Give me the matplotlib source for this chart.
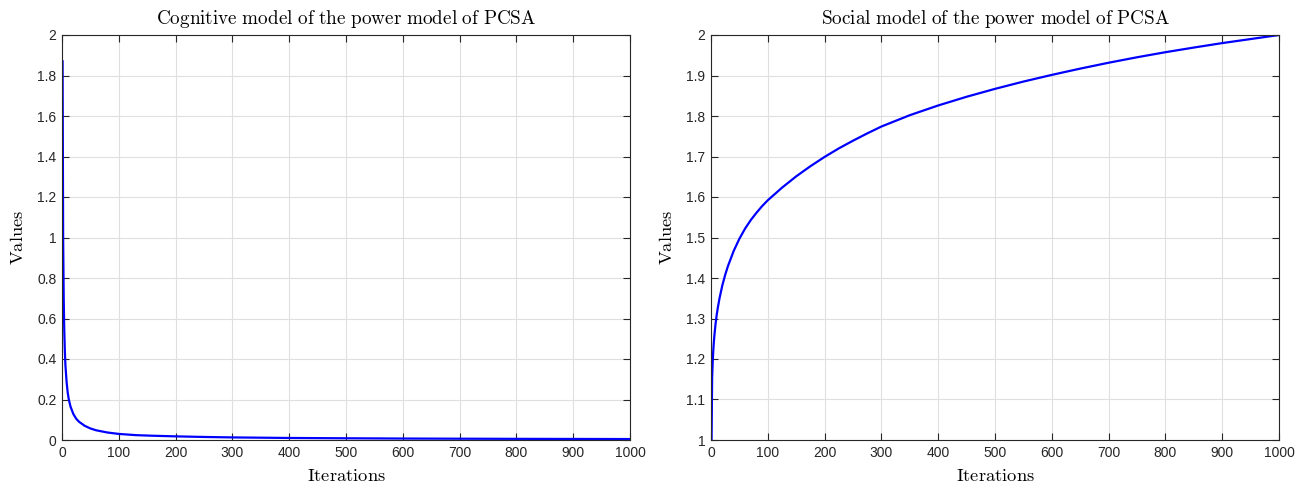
import matplotlib
matplotlib.use('Agg')
import matplotlib.pyplot as plt
from matplotlib.ticker import FuncFormatter

# values
cog_iter = [1, 2, 3, 4, 5, 6, 8, 10, 12, 15, 20, 25, 30, 40, 50, 60, 80, 100,
            130, 160, 200, 250, 300, 400, 500, 600, 700, 800, 900, 1000]
cognitive = [1.87, 1.00, 0.70, 0.54, 0.44, 0.37, 0.29, 0.235, 0.20, 0.165, 0.128,
             0.105, 0.090, 0.070, 0.057, 0.048, 0.037, 0.030, 0.024, 0.021, 0.018,
             0.015, 0.0128, 0.010, 0.0085, 0.0072, 0.0064, 0.0057, 0.0052, 0.0047]

soc_iter = [1, 2, 3, 4, 5, 6, 8, 10, 12, 15, 20, 25, 30, 40, 50, 60, 70, 80, 90,
            100, 125, 150, 175, 200, 225, 250, 275, 300, 350, 400, 450, 500, 550,
            600, 650, 700, 750, 800, 850, 900, 950, 1000]
social = [1.00, 1.1535, 1.1935, 1.2205, 1.2415, 1.2585, 1.2865, 1.3085, 1.3265,
          1.35, 1.382, 1.408, 1.43, 1.467, 1.497, 1.522, 1.543, 1.561, 1.5775,
          1.592, 1.623, 1.651, 1.676, 1.699, 1.72, 1.739, 1.757, 1.774, 1.802,
          1.826, 1.8475, 1.867, 1.885, 1.9015, 1.917, 1.9315, 1.945, 1.9575,
          1.969, 1.98, 1.99, 2.00]

x_ticks = list(range(0, 1001, 100))
cog_yticks = [0, 0.2, 0.4, 0.6, 0.8, 1, 1.2, 1.4, 1.6, 1.8, 2]
soc_yticks = [1, 1.1, 1.2, 1.3, 1.4, 1.5, 1.6, 1.7, 1.8, 1.9, 2]

plt.rcParams['mathtext.fontset'] = 'cm'
plt.rcParams['font.family'] = ['Liberation Sans', 'DejaVu Sans']

fig = plt.figure(figsize=(13.07, 4.88), dpi=100)
ax1 = fig.add_axes([62 / 1307, 48 / 488, 568 / 1307, 405 / 488])
ax2 = fig.add_axes([711 / 1307, 48 / 488, 568 / 1307, 405 / 488])

dark = '#262626'
fmt = FuncFormatter(lambda v, p: '%g' % round(v, 3))


def style(ax, title, yticks):
    ax.set_xlim(0, 1000)
    ax.set_ylim(yticks[0], yticks[-1])
    ax.set_xticks(x_ticks)
    ax.set_yticks(yticks)
    ax.xaxis.set_major_formatter(fmt)
    ax.yaxis.set_major_formatter(fmt)
    ax.grid(True, color='#dfdfdf', linewidth=0.8)
    ax.set_axisbelow(True)
    ax.tick_params(direction='in', length=5, width=0.8, top=True, right=True,
                   colors=dark, labelsize=10, pad=4)
    for s in ax.spines.values():
        s.set_color(dark)
        s.set_linewidth(0.8)
    ax.set_title(r'$\mathrm{' + title.replace(' ', r'\ ') + '}$', fontsize=13.8, pad=8)
    ax.set_xlabel(r'$\mathrm{Iterations}$', fontsize=13.3, labelpad=6)
    ax.set_ylabel(r'$\mathrm{Values}$', fontsize=13.3, labelpad=7)


ax1.plot(cog_iter, cognitive, color='#0000ff', linewidth=1.6)
style(ax1, 'Cognitive model of the power model of PCSA', cog_yticks)

ax2.plot(soc_iter, social, color='#0000ff', linewidth=1.6)
style(ax2, 'Social model of the power model of PCSA', soc_yticks)

fig.savefig('out.png', dpi=100)
